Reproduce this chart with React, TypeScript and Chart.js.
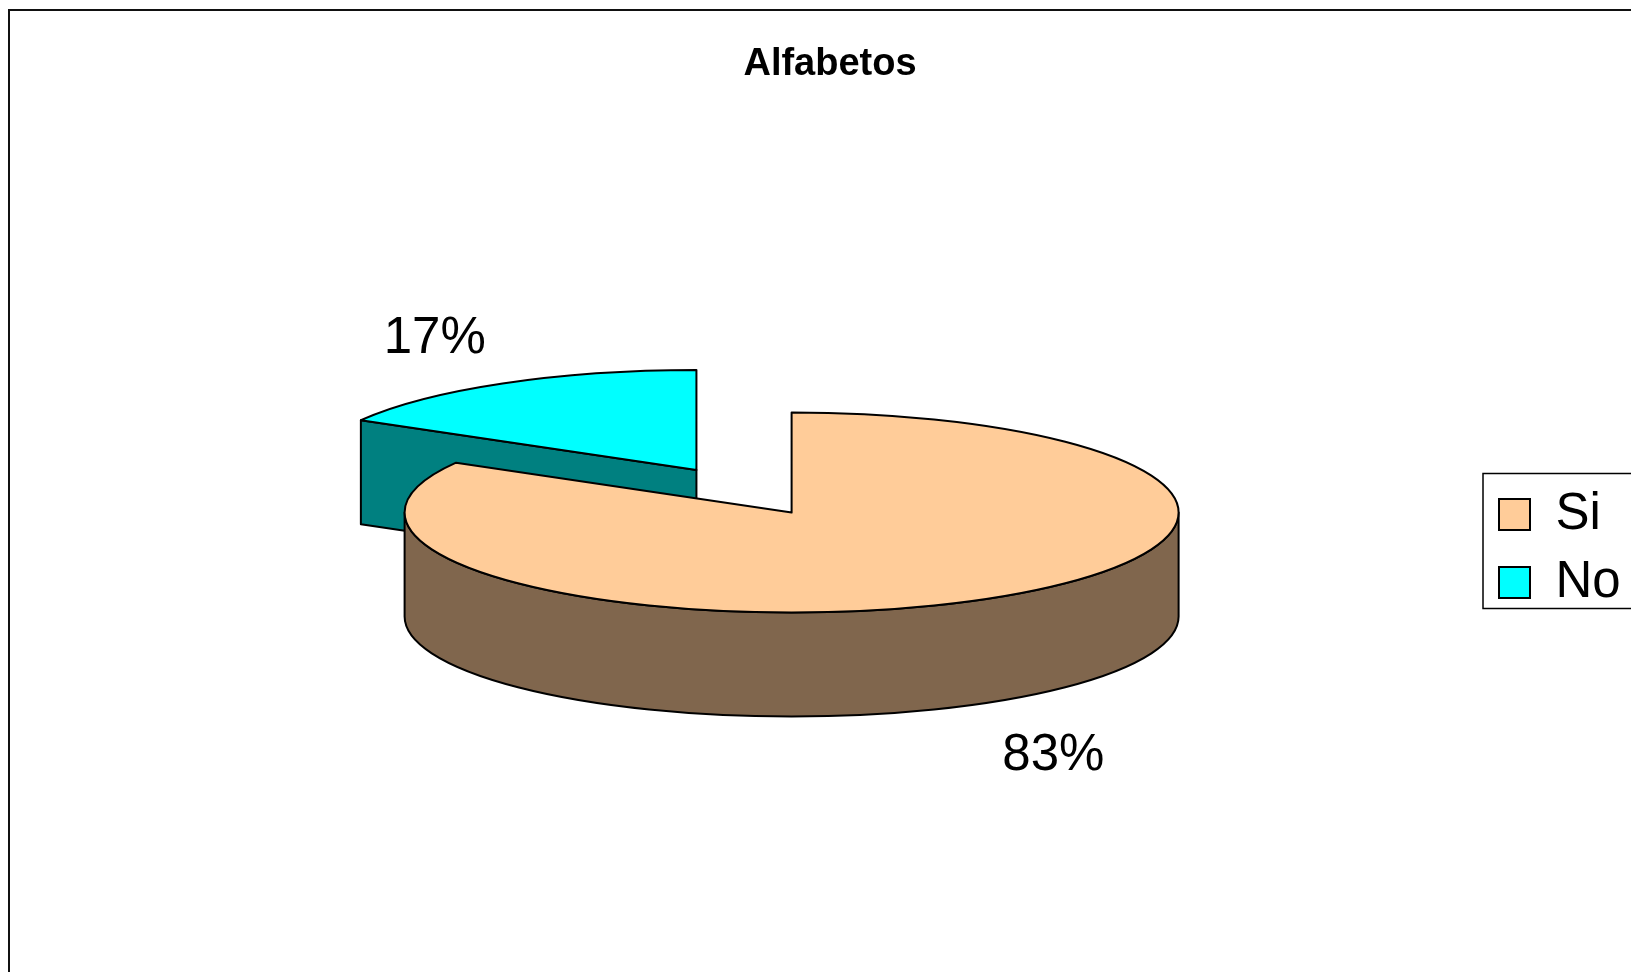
import { useEffect, useRef } from 'react';
import { Chart, registerables } from 'chart.js';

Chart.register(...registerables);

// ---- data ----
const categories: string[] = ['Si', 'No'];
const values: number[] = [83.3, 16.7];
const sliceColors: string[] = ['#FFCC99', '#00FFFF'];
const explodeOffsets: number[] = [0, 190];
const chartTitle = 'Alfabetos';

// ---- style ----
const FONT = '"Liberation Sans", Arial, Helvetica, sans-serif';
const TILT = 100 / 387; // ellipse minor/major ratio (view tilt)
const DEPTH = 104 / 387; // pie thickness relative to radius
const LABEL_DIST = 1.35; // label distance relative to radius
const LABEL_SIZE = 51;

function shade(hex: string, f: number): string {
  const h = hex.replace('#', '');
  const r = Math.round(parseInt(h.slice(0, 2), 16) * f);
  const g = Math.round(parseInt(h.slice(2, 4), 16) * f);
  const b = Math.round(parseInt(h.slice(4, 6), 16) * f);
  return `rgb(${r},${g},${b})`;
}

const pie3d = {
  id: 'pie3d',
  beforeDatasetsDraw(chart: any) {
    const ctx = chart.ctx as CanvasRenderingContext2D;
    const meta = chart.getDatasetMeta(0);
    const ds = chart.data.datasets[0];
    const total = ds.data.reduce((s: number, v: number) => s + v, 0);
    const slices = meta.data.map((el: any, i: number) => {
      const p = el.getProps(['x', 'y', 'startAngle', 'endAngle', 'outerRadius'], true);
      const off = el.options.offset || 0;
      const mid = (p.startAngle + p.endAngle) / 2;
      const a = p.outerRadius;
      const b = a * TILT;
      const d = a * DEPTH;
      return {
        i,
        cx: p.x + off * Math.cos(mid),
        cy: p.y + off * TILT * Math.sin(mid),
        a, b, d,
        s: p.startAngle,
        e: p.endAngle,
        mid,
        color: el.options.backgroundColor,
        border: el.options.borderColor,
        bw: el.options.borderWidth,
        value: ds.data[i],
      };
    });
    const order = [...slices].sort(
      (u: any, v: any) => u.cy + u.b * Math.sin(u.mid) - (v.cy + v.b * Math.sin(v.mid))
    );
    ctx.save();
    ctx.lineJoin = 'round';
    for (const sl of order) {
      const { cx, cy, a, b, d, s, e } = sl;
      const dark = shade(sl.color, 0.5);
      ctx.strokeStyle = sl.border;
      ctx.lineWidth = sl.bw;
      // radial (cut) faces
      const face = (t: number) => {
        const px = cx + a * Math.cos(t);
        const py = cy + b * Math.sin(t);
        ctx.beginPath();
        ctx.moveTo(cx, cy);
        ctx.lineTo(px, py);
        ctx.lineTo(px, py + d);
        ctx.lineTo(cx, cy + d);
        ctx.closePath();
        ctx.fillStyle = dark;
        ctx.fill();
        ctx.stroke();
      };
      if (Math.cos(s) < -1e-6) face(s);
      if (Math.cos(e) > 1e-6) face(e);
      // outer wall (front half only)
      for (let k = -1; k <= 1; k++) {
        const lo = Math.max(s, 2 * Math.PI * k);
        const hi = Math.min(e, 2 * Math.PI * k + Math.PI);
        if (hi - lo > 1e-6) {
          ctx.beginPath();
          ctx.ellipse(cx, cy, a, b, 0, lo, hi, false);
          ctx.lineTo(cx + a * Math.cos(hi), cy + b * Math.sin(hi) + d);
          ctx.ellipse(cx, cy + d, a, b, 0, hi, lo, true);
          ctx.closePath();
          ctx.fillStyle = dark;
          ctx.fill();
          ctx.stroke();
        }
      }
      // top face
      ctx.beginPath();
      ctx.moveTo(cx, cy);
      ctx.ellipse(cx, cy, a, b, 0, s, e, false);
      ctx.closePath();
      ctx.fillStyle = sl.color;
      ctx.fill();
      ctx.stroke();
    }
    // percentage labels
    ctx.fillStyle = '#000';
    ctx.font = `${LABEL_SIZE}px ${FONT}`;
    ctx.textAlign = 'center';
    ctx.textBaseline = 'alphabetic';
    for (const sl of slices) {
      const pct = Math.round((sl.value / total) * 100) + '%';
      const lx = sl.cx + sl.a * LABEL_DIST * Math.cos(sl.mid);
      const ly = sl.cy + sl.b * LABEL_DIST * Math.sin(sl.mid);
      const front = Math.sin(sl.mid) > 0;
      ctx.fillText(pct, lx, front ? ly + sl.d + LABEL_SIZE * 0.716 : ly);
    }
    ctx.restore();
    return false;
  },
  afterDraw(chart: any) {
    const lg = chart.legend;
    if (!lg || !lg.legendHitBoxes || !lg.legendHitBoxes.length) return;
    const hb = lg.legendHitBoxes;
    const left = Math.min(...hb.map((h: any) => h.left)) - 16;
    const top = Math.min(...hb.map((h: any) => h.top)) - 15.5;
    const right = Math.max(...hb.map((h: any) => h.left + h.width)) + 30;
    const bottom = Math.max(...hb.map((h: any) => h.top + h.height)) + 0.5;
    const ctx = chart.ctx as CanvasRenderingContext2D;
    ctx.save();
    ctx.strokeStyle = '#000';
    ctx.lineWidth = 1.5;
    ctx.strokeRect(left, top, right - left, bottom - top);
    ctx.restore();
  },
};

export default function App() {
  const ref = useRef<HTMLCanvasElement | null>(null);
  useEffect(() => {
    if (!ref.current) return;
    const chart = new Chart(ref.current, {
      type: 'pie',
      data: {
        labels: categories,
        datasets: [
          {
            data: values,
            backgroundColor: sliceColors,
            borderColor: '#000',
            borderWidth: 2,
            offset: explodeOffsets,
          },
        ],
      },
      options: {
        animation: false,
        responsive: true,
        maintainAspectRatio: false,
        devicePixelRatio: 1,
        events: [],
        radius: 387,
        layout: { padding: { left: 19.3, right: 0.3, top: 0, bottom: 347 } },
        scales: {
          // invisible left spacer box: keeps the plot area off-centre like the original
          spacer: {
            type: 'linear',
            position: 'left',
            display: true,
            grid: { display: false },
            border: { display: false },
            ticks: { display: false },
            afterFit: (scale: any) => {
              scale.width = 71.9;
            },
          },
        },
        plugins: {
          tooltip: { enabled: false },
          title: {
            display: true,
            text: chartTitle,
            color: '#000',
            fullSize: true,
            font: { family: FONT, size: 38, weight: 'bold', lineHeight: 1.2 },
            padding: { top: 30.9, bottom: 312.5 },
          },
          legend: {
            display: true,
            position: 'right',
            align: 'end',
            fullSize: false,
            labels: {
              color: '#000',
              font: { family: FONT, size: 51 },
              boxWidth: 31,
              boxHeight: 31,
              padding: 17,
            },
          },
        },
      } as any,
      plugins: [pie3d],
    });
    return () => chart.destroy();
  }, []);
  return (
    <div
      style={{
        position: 'fixed',
        left: 8,
        top: 9,
        width: 1623,
        height: 963,
        boxSizing: 'border-box',
        borderTop: '2px solid #111',
        borderLeft: '2px solid #111',
        background: '#fff',
        overflow: 'hidden',
      }}
    >
      <div style={{ position: 'relative', width: 1621, height: 961 }}>
        <canvas ref={ref} />
      </div>
    </div>
  );
}
